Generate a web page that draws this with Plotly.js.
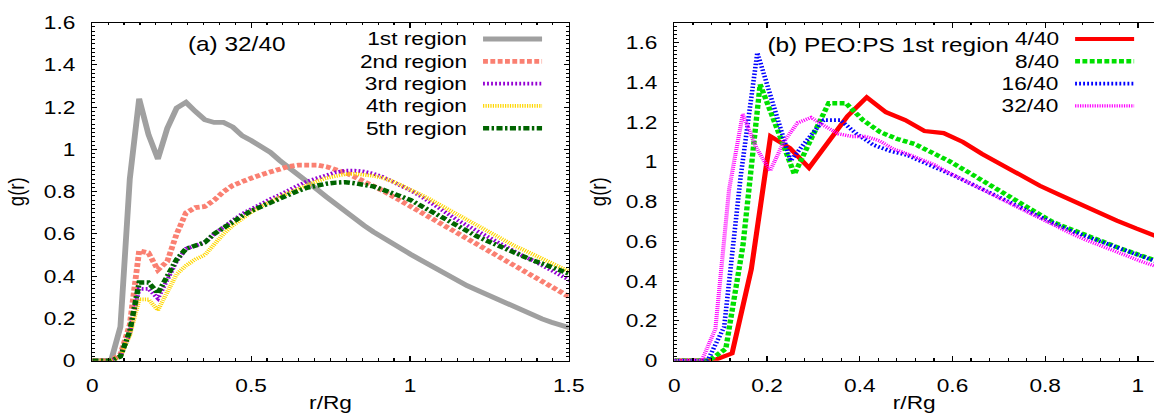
<!DOCTYPE html>
<html>
<head>
<meta charset="utf-8">
<script src="https://cdn.plot.ly/plotly-3.0.1.min.js"></script>
<style>
  html, body { margin: 0; padding: 0; overflow: hidden; background: #fff; }
  #chart { transform-origin: 0 0; }
</style>
</head>
<body>
<div id="chart"></div>
<script>
// ---------- data: panel (a), PEO:PS 32/40, g(r) per region ----------
const rA = [0, 0.0295, 0.059, 0.0885, 0.118, 0.1475, 0.177, 0.2065, 0.236, 0.2655,
            0.295, 0.3245, 0.354, 0.3835, 0.413, 0.4425, 0.472, 0.5015, 0.531, 0.5605,
            0.59, 0.6195, 0.649, 0.6785, 0.708, 0.7375, 0.767, 0.7965, 0.826, 0.8555,
            0.885, 0.9145, 0.944, 0.9735, 1.003, 1.0325, 1.062, 1.0915, 1.121, 1.1505,
            1.18, 1.2095, 1.239, 1.2685, 1.298, 1.3275, 1.357, 1.3865, 1.416, 1.4455,
            1.475, 1.5045];
const region1 = [0, 0, 0, 0.16, 0.86, 1.24, 1.07, 0.955, 1.10, 1.196,
                 1.223, 1.18, 1.141, 1.128, 1.128, 1.106, 1.065, 1.041, 1.013, 0.986,
                 0.948, 0.915, 0.88, 0.845, 0.81, 0.775, 0.74, 0.705, 0.672, 0.64,
                 0.61, 0.582, 0.555, 0.53, 0.503, 0.478, 0.453, 0.43, 0.405, 0.38,
                 0.355, 0.335, 0.315, 0.295, 0.275, 0.255, 0.235, 0.215, 0.198, 0.182,
                 0.168, 0.155];
const region2 = [0, 0, 0, 0.03, 0.17, 0.52, 0.51, 0.43, 0.47, 0.60,
                 0.70, 0.725, 0.73, 0.76, 0.80, 0.83, 0.85, 0.865, 0.88, 0.895,
                 0.91, 0.92, 0.926, 0.928, 0.926, 0.918, 0.905, 0.89, 0.87, 0.85,
                 0.83, 0.805, 0.78, 0.755, 0.73, 0.70, 0.675, 0.65, 0.625, 0.60,
                 0.575, 0.55, 0.525, 0.50, 0.475, 0.45, 0.425, 0.40, 0.375, 0.35,
                 0.325, 0.30];
const region3 = [0, 0, 0, 0.02, 0.13, 0.34, 0.34, 0.295, 0.38, 0.47,
                 0.53, 0.545, 0.56, 0.60, 0.635, 0.665, 0.695, 0.72, 0.745, 0.765,
                 0.785, 0.81, 0.83, 0.85, 0.865, 0.88, 0.892, 0.90, 0.90, 0.895,
                 0.885, 0.87, 0.85, 0.83, 0.805, 0.78, 0.75, 0.72, 0.695, 0.665,
                 0.64, 0.615, 0.59, 0.565, 0.545, 0.52, 0.495, 0.475, 0.45, 0.43,
                 0.405, 0.38];
const region4 = [0, 0, 0, 0.02, 0.12, 0.29, 0.29, 0.24, 0.33, 0.41,
                 0.45, 0.48, 0.50, 0.55, 0.60, 0.64, 0.675, 0.705, 0.73, 0.755,
                 0.775, 0.795, 0.815, 0.835, 0.85, 0.865, 0.876, 0.883, 0.885, 0.88,
                 0.875, 0.865, 0.85, 0.83, 0.81, 0.79, 0.765, 0.74, 0.715, 0.69,
                 0.665, 0.64, 0.615, 0.59, 0.57, 0.545, 0.525, 0.505, 0.48, 0.46,
                 0.44, 0.42];
const region5 = [0, 0, 0, 0.02, 0.14, 0.37, 0.37, 0.32, 0.40, 0.48,
                 0.53, 0.545, 0.56, 0.60, 0.63, 0.66, 0.685, 0.71, 0.73, 0.75,
                 0.77, 0.79, 0.805, 0.82, 0.83, 0.838, 0.843, 0.845, 0.84, 0.835,
                 0.825, 0.81, 0.795, 0.78, 0.76, 0.735, 0.71, 0.685, 0.66, 0.635,
                 0.61, 0.59, 0.57, 0.55, 0.53, 0.51, 0.495, 0.475, 0.46, 0.445,
                 0.43, 0.41];

// ---------- data: panel (b), 1st region for each PEO:PS ratio ----------
const r4 = [0, 0.0415, 0.083, 0.1245, 0.166, 0.2075, 0.249, 0.2905, 0.332, 0.3735,
            0.415, 0.4565, 0.498, 0.5395, 0.581, 0.6225, 0.664, 0.7055, 0.747, 0.7885,
            0.83, 0.8715, 0.913, 0.9545, 0.996, 1.0375, 1.079];
const g4 = [0, 0, 0, 0.037, 0.46, 1.128, 1.07, 0.97, 1.10, 1.23,
            1.325, 1.25, 1.21, 1.155, 1.145, 1.10, 1.04, 0.985, 0.93, 0.88,
            0.835, 0.79, 0.745, 0.705, 0.665, 0.625, 0.59];
const r8 = [0, 0.037, 0.074, 0.111, 0.148, 0.185, 0.222, 0.259, 0.296, 0.333,
            0.37, 0.407, 0.444, 0.481, 0.518, 0.555, 0.592, 0.629, 0.666, 0.703,
            0.74, 0.777, 0.814, 0.851, 0.888, 0.925, 0.962, 0.999, 1.036, 1.073];
const g8 = [0, 0, 0, 0.06, 0.58, 1.39, 1.165, 0.938, 1.12, 1.295,
            1.295, 1.21, 1.15, 1.115, 1.09, 1.05, 1.005, 0.955, 0.905, 0.85,
            0.80, 0.75, 0.70, 0.665, 0.63, 0.60, 0.565, 0.535, 0.505, 0.475];
const r16 = [0, 0.0358, 0.0716, 0.1074, 0.1432, 0.179, 0.2148, 0.2506, 0.2864, 0.3222,
             0.358, 0.3938, 0.4296, 0.4654, 0.5012, 0.537, 0.5728, 0.6086, 0.6444, 0.6802,
             0.716, 0.7518, 0.7876, 0.8234, 0.8592, 0.895, 0.9308, 0.9666, 1.0024, 1.0382,
             1.074];
const g16 = [0, 0, 0, 0.17, 0.93, 1.549, 1.28, 1.005, 1.11, 1.21,
             1.21, 1.14, 1.085, 1.055, 1.035, 1.0, 0.965, 0.925, 0.885, 0.845,
             0.80, 0.76, 0.72, 0.685, 0.65, 0.62, 0.59, 0.56, 0.53, 0.50,
             0.47];
// the 32/40 first-region curve is the same one drawn as region1 in panel (a)
const r32 = rA;
const g32 = region1;

// key labels
const labelsA = ['1st region', '2nd region', '3rd region', '4th region', '5th region'];
const labelsB = ['4/40', '8/40', '16/40', '32/40'];

// ---------- page geometry ----------
const FIG_W = 1154, FIG_H = 413;
const STRETCH = 1.22;                 // horizontal stretch of the whole figure
const innerW = FIG_W / STRETCH;
const el = document.getElementById('chart');
el.style.width = innerW + 'px';
el.style.height = FIG_H + 'px';
el.style.transform = 'scaleX(' + STRETCH + ')';

const fx = px => px / FIG_W;          // screen x -> paper
const fy = py => 1 - py / FIG_H;      // screen y -> paper

const FONT = 'Liberation Sans, Arial, Helvetica, sans-serif';
const TICK_SIZE = 18.6;

const styleA = [
  {color: '#a0a0a0', width: 4.8, dash: 'solid'},
  {color: '#fa8072', width: 4.8, dash: '4px,2px'},
  {color: '#9400d3', width: 3.8, dash: '1.5px,1.8px'},
  {color: '#ffd700', width: 3.8, dash: '1px,1px'},
  {color: '#006400', width: 4.5, dash: '5px,2px,2px,2px'}
];
const styleB = [
  {color: '#ff0000', width: 4.2, dash: 'solid'},
  {color: '#00e000', width: 4.4, dash: '4px,2px'},
  {color: '#0000ff', width: 3.8, dash: '1.5px,1.8px'},
  {color: '#ff00ff', width: 3.4, dash: '1px,1px'}
];

const seriesA = [region1, region2, region3, region4, region5];
const seriesB = [[r4, g4], [r8, g8], [r16, g16], [r32, g32]];

const traces = [];
seriesA.forEach((y, i) => traces.push({
  x: rA, y: y, xaxis: 'x', yaxis: 'y', type: 'scatter', mode: 'lines',
  name: labelsA[i], line: styleA[i], showlegend: false, hoverinfo: 'skip'
}));
seriesB.forEach((s, i) => traces.push({
  x: s[0], y: s[1], xaxis: 'x2', yaxis: 'y2', type: 'scatter', mode: 'lines',
  name: labelsB[i], line: styleB[i], showlegend: false, hoverinfo: 'skip'
}));

function axisBase() {
  return {
    showgrid: false, zeroline: false, showline: true,
    linecolor: '#000', linewidth: 1.2,
    ticks: 'inside', tickcolor: '#000', tickwidth: 1,
    tickfont: {family: FONT, size: TICK_SIZE, color: '#000'},
    tick0: 0, fixedrange: true
  };
}

const yTop = 22.7, yBot = 360.7;

const layout = {
  width: innerW, height: FIG_H,
  margin: {l: 0, r: 0, t: 0, b: 0},
  paper_bgcolor: '#fff', plot_bgcolor: '#fff',
  font: {family: FONT, size: TICK_SIZE, color: '#000'},
  xaxis: Object.assign(axisBase(), {
    domain: [fx(92.3), fx(568.7)], range: [0, 1.5], anchor: 'y',
    dtick: 0.5, ticklen: 5, mirror: 'ticks', ticklabelstandoff: 8,
    minor: {dtick: 0.05, ticklen: 2.5, ticks: 'inside', tickcolor: '#000'},
    title: {text: 'r/Rg', font: {family: FONT, size: TICK_SIZE}, standoff: 2}
  }),
  yaxis: Object.assign(axisBase(), {
    domain: [fy(yBot), fy(yTop)], range: [0, 1.6], anchor: 'x',
    dtick: 0.2, ticklen: 4, mirror: 'ticks', ticklabelstandoff: 9,
    minor: {dtick: 0.02, ticklen: 2, ticks: 'inside', tickcolor: '#000'},
    title: {text: 'g(r)', font: {family: FONT, size: TICK_SIZE}, standoff: 10}
  }),
  xaxis2: Object.assign(axisBase(), {
    domain: [fx(674.3), 1], range: [0, 1.035], anchor: 'y2',
    dtick: 0.2, ticklen: 5, mirror: 'ticks', ticklabelstandoff: 8,
    minor: {dtick: 0.04, ticklen: 2.5, ticks: 'inside', tickcolor: '#000'},
    title: {text: 'r/Rg', font: {family: FONT, size: TICK_SIZE}, standoff: 2}
  }),
  yaxis2: Object.assign(axisBase(), {
    domain: [fy(yBot), fy(yTop)], range: [0, 1.7], anchor: 'x2',
    dtick: 0.2, ticklen: 4, mirror: false, ticklabelstandoff: 9,
    minor: {dtick: 0.02, ticklen: 2, ticks: 'inside', tickcolor: '#000'},
    title: {text: 'g(r)', font: {family: FONT, size: TICK_SIZE}, standoff: 10}
  }),
  annotations: [],
  shapes: []
};

// panel captions
layout.annotations.push({
  xref: 'paper', yref: 'paper', x: fx(237), y: fy(44), xanchor: 'center', yanchor: 'middle',
  text: '(a) 32/40', showarrow: false, font: {family: FONT, size: 20, color: '#000'}
});
layout.annotations.push({
  xref: 'paper', yref: 'paper', x: fx(888), y: fy(45), xanchor: 'center', yanchor: 'middle',
  text: '(b) PEO:PS 1st region', showarrow: false, font: {family: FONT, size: 20, color: '#000'}
});

// key: label right-aligned, then a line sample
function addKey(labels, styles, textRight, sampleX0, sampleX1, firstRow, rowStep) {
  labels.forEach((lab, i) => {
    const yy = fy(firstRow + i * rowStep);
    layout.annotations.push({
      xref: 'paper', yref: 'paper', x: fx(textRight), y: yy,
      xanchor: 'right', yanchor: 'middle', text: lab, showarrow: false,
      font: {family: FONT, size: TICK_SIZE, color: '#000'}
    });
    layout.shapes.push({
      type: 'line', xref: 'paper', yref: 'paper',
      x0: fx(sampleX0), x1: fx(sampleX1), y0: yy, y1: yy,
      line: {color: styles[i].color, width: styles[i].width, dash: styles[i].dash}
    });
  });
}
addKey(labelsA, styleA, 470, 483, 542, 39, 22.3);
addKey(labelsB, styleB, 1061, 1075, 1134, 39, 22.3);

Plotly.newPlot(el, traces, layout, {displayModeBar: false, staticPlot: true});
</script>
</body>
</html>
